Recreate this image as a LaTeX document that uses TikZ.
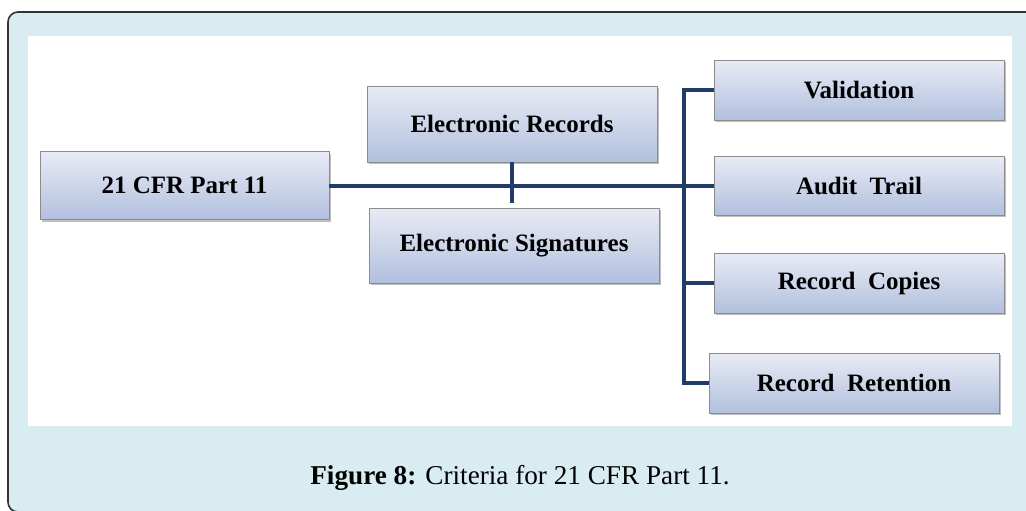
\documentclass[tikz,border=0pt]{standalone}
\usepackage{fontspec}
\setmainfont{Liberation Serif}
\usetikzlibrary{positioning,shadows}

\definecolor{panel}{HTML}{D8ECF1}
\definecolor{navy}{HTML}{1F3D68}
\definecolor{boxtop}{HTML}{E8EBF5}
\definecolor{boxbot}{HTML}{B2C0DE}

\begin{document}
\begin{tikzpicture}[
  x=0.5pt, y=-0.5pt,
  box/.style={draw=black!45, top color=boxtop, bottom color=boxbot, align=center,
    minimum width=145pt, inner sep=0pt, font=\fontsize{12.5}{15}\selectfont\bfseries,
    drop shadow={shadow xshift=1pt, shadow yshift=-1.2pt, fill=black!55, opacity=0.45}},
  link/.style={draw=navy, line width=2pt, line join=miter},
  caption/.style={font=\fontsize{13.6}{16}\selectfont, anchor=base}
]
\useasboundingbox (0,0) rectangle (1026,510);
\clip (0,0) rectangle (1026,510);

% frame and white drawing area
\draw[fill=panel, draw=black!80, line width=0.8pt, rounded corners=5pt] (8,12) rectangle (1060,512);
\fill[white] (28,36) rectangle (1012,426);

% boxes
\node[box, minimum width=144.5pt, minimum height=34pt] (cfr) at (184.5,185.5) {21 CFR Part 11};
\node[box, minimum height=38pt] (recs) at (512,124) {Electronic Records};
\node[box, minimum height=37.5pt] (sigs) at (514,245.5) {Electronic Signatures};
\node[box, minimum height=30pt] (val) at (859,90) {Validation};
\node[box, minimum height=29.5pt] (audit) at (859,185.5) {Audit\ \ Trail};
\node[box, minimum height=30pt] (copies) at (859,283) {Record\ \ Copies};
\node[box, minimum height=30pt] (ret) at (854,383) {Record\ \ Retention};

\coordinate (spine) at (684,90);

% connectors
\draw[link] (cfr.east) -- (audit.west);
\draw[link] (recs.south) -- ++(0,41);
\draw[link] (val.west) -- (spine) |- (ret.west);
\draw[link] (copies.west) -- (copies.west -| spine);

\node[caption] (cap) at (520,484) {\textbf{Figure 8:} Criteria for 21 CFR Part 11.};

\end{tikzpicture}
\end{document}
